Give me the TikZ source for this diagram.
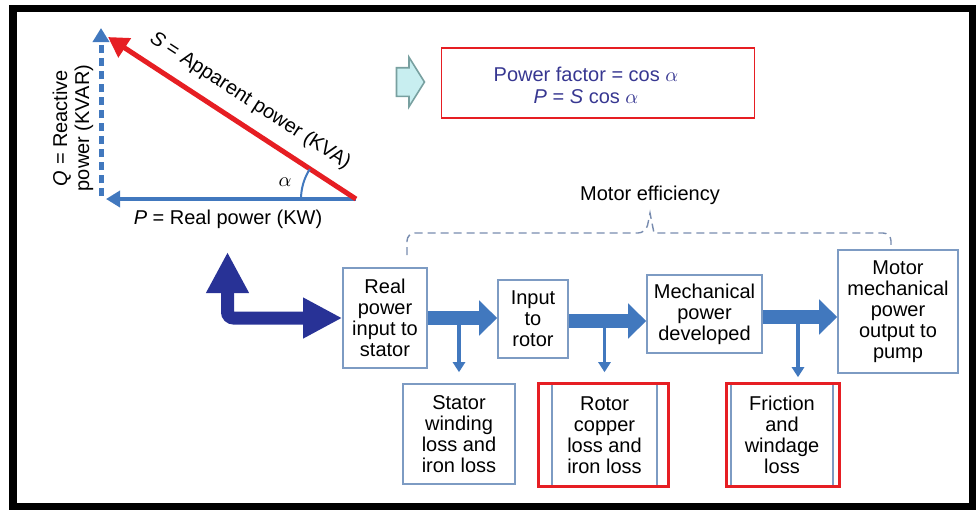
\documentclass[tikz,border=0pt]{standalone}
\usepackage{fontspec}
\setmainfont{Liberation Sans}
\usetikzlibrary{positioning, shapes.arrows, arrows.meta, calc}
\definecolor{myblue}{RGB}{65,120,190}
\definecolor{mynavy}{RGB}{40,50,150}
\definecolor{myred}{RGB}{230,30,35}
\definecolor{boxblue}{RGB}{125,155,195}
\definecolor{textblue}{RGB}{55,55,145}
\definecolor{mycyan}{RGB}{200,238,240}
\definecolor{cyanedge}{RGB}{120,160,160}
\definecolor{dashgray}{RGB}{120,140,175}
\tikzset{
  block/.style={draw=boxblue, line width=0.8pt, align=center, inner sep=2pt,
    font=\fontsize{10}{10.5}\selectfont},
  redframe/.style={draw=myred, line width=1.4pt},
  flow/.style={draw=myblue, line width=7pt, -{Triangle[width=17pt,length=9pt]}},
  lossarrow/.style={draw=myblue, line width=1.6pt, -{Triangle[width=6pt,length=5pt]}},
  noborder/.style={inner sep=0, font=\fontsize{10}{11}\selectfont},
  effline/.style={draw=dashgray, line width=0.7pt, dash pattern=on 4pt off 2.5pt}
}

\begin{document}
\begin{tikzpicture}[x=0.5pt, y=0.5pt]
\useasboundingbox (0,0) rectangle (977,-510);
\draw[line width=3.75pt] (13,-8.5) rectangle (972.5,-506.5);

% power triangle
\coordinate (O) at (356,-199);
\coordinate (P) at (106,-199);
\coordinate (Qbot) at (101,-196);
\coordinate (Qtop) at (101,-28);
\coordinate (S) at (108,-37);
\draw[myblue, line width=2pt, -{Triangle[width=8pt,length=7pt]}] (O) -- (P);
\draw[myblue, line width=2.5pt, dash pattern=on 4pt off 2.5pt,
  -{Triangle[width=8pt,length=7pt]}] (Qbot) -- (Qtop);
\draw[myred, line width=2.5pt, -{Triangle[width=11pt,length=10pt]}] (O) -- (S);
\draw[myblue, line width=1pt] ($(O)+(180:55)$) arc[start angle=180, end angle=147, radius=27.5pt];
\node[noborder] (alpha) at (285,-182) {$\alpha$};
\node[noborder, rotate=-33] (slabel) at (250,-101) {\textit{S} = Apparent power (KVA)};
\node[noborder] (plabel) at (228,-219) {\textit{P} = Real power (KW)};
\node[noborder, rotate=90, align=center] (qlabel) at (73,-128) {\textit{Q} = Reactive\\power (KVAR)};

% formula
\node[single arrow, draw=cyanedge, fill=mycyan, line width=0.8pt, inner sep=0,
  inner ysep=6.75pt, minimum height=14pt, single arrow head extend=5.25pt,
  single arrow tip angle=116] (hint) at (406,-82) {};
\node[draw=myred, line width=0.8pt, minimum width=156.5pt, minimum height=35pt] (formula) at (598,-83) {};
\node[noborder, align=center, text=textblue] (formulatext) at (586,-85)
  {Power factor = cos $\alpha$\\\textit{P} = \textit{S} cos $\alpha$};

% motor chain
\node[block, minimum width=42pt, minimum height=50pt] (stator) at (385,-318) {Real\\power\\input to\\stator};
\node[block, minimum width=35pt, minimum height=39pt] (rotor) at (533,-319) {Input\\to\\rotor};
\node[block, minimum width=57.5pt, minimum height=39pt] (mech) at (704.5,-314) {Mechanical\\power\\developed};
\node[block, minimum width=60pt, minimum height=61.5pt] (motor) at (898,-311.5) {Motor\\mechanical\\power\\output to\\pump};
\node[block, minimum width=56pt, minimum height=50pt] (statorloss) at (459,-434) {Stator\\winding\\loss and\\iron loss};
\node[block, minimum width=52.5pt, minimum height=51pt] (rotorloss) at (604.5,-435) {Rotor\\copper\\loss and\\iron loss};
\node[block, minimum width=51pt, minimum height=51pt] (frictionloss) at (782,-435) {Friction\\and\\windage\\loss};
\draw[redframe] ([xshift=-6.25pt]rotorloss.south west) rectangle ([xshift=5.5pt]rotorloss.north east);
\draw[redframe] ([xshift=-2pt]frictionloss.south west) rectangle ([xshift=3pt]frictionloss.north east);

\draw[lossarrow] (statorloss.north |- stator.east) -- ([yshift=5.5pt]statorloss.north);
\draw[lossarrow] (rotorloss.north |- rotor.east) -- ([yshift=5.5pt]rotorloss.north);
\draw[lossarrow] ([xshift=8pt]frictionloss.north |- mech.east) -- ([xshift=8pt,yshift=3pt]frictionloss.north);
\draw[flow] (stator.east) -- (stator.east -| rotor.west);
\draw[flow] ([yshift=-1pt]rotor.east) -- ([yshift=-1pt]rotor.east -| mech.west);
\draw[flow] ([yshift=-1.5pt]mech.east) -- ([yshift=-1.5pt]mech.east -| motor.west);

% input arrow
\coordinate (navytop) at (227.5,-252);
\draw[mynavy, line width=6.5pt, rounded corners=3pt,
  {Triangle[width=20pt,length=20.5pt]}-{Triangle[width=19pt,length=19.5pt]}] (navytop) |- (stator.west);

% efficiency bracket
\node[noborder] (eff) at (650,-195) {Motor efficiency};
\coordinate (effL) at (407,-255);
\coordinate (effR) at (891,-250);
\coordinate (notch) at (650,-213);
\draw[effline, rounded corners=4pt] (effL) |- (646,-233) [sharp corners] -- (notch) -- (654,-233)
  [rounded corners=4pt] -| (effR);
\end{tikzpicture}
\end{document}
